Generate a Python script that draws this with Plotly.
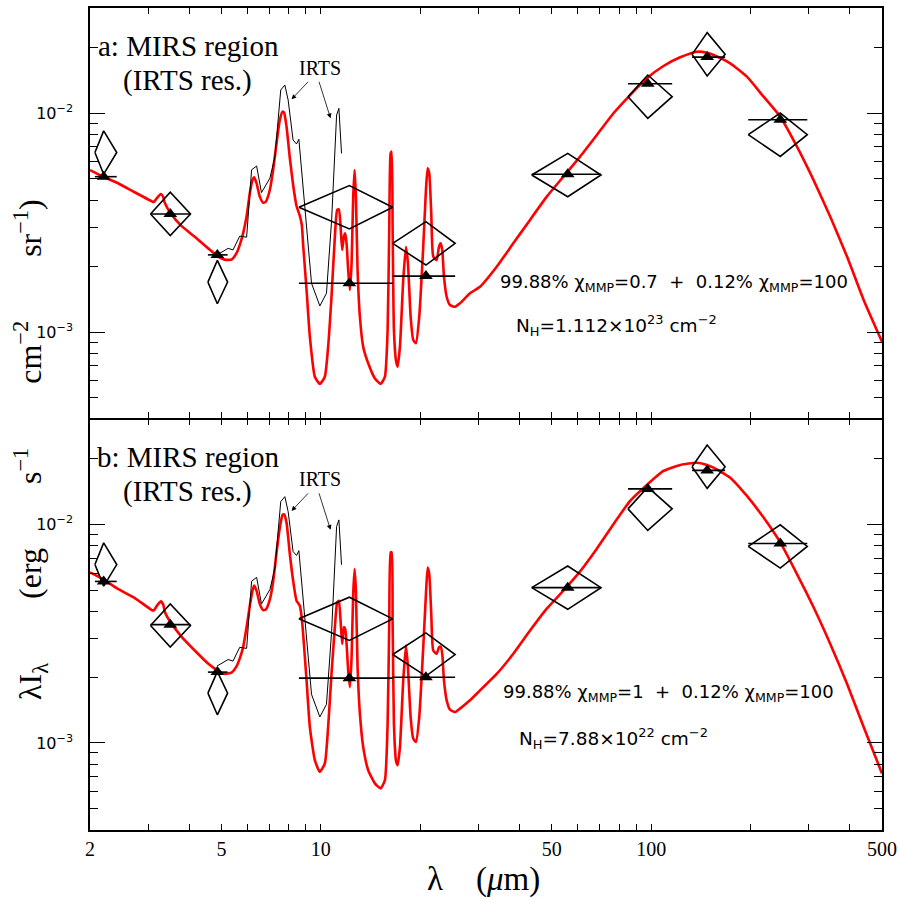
import numpy as np
import plotly.graph_objects as go

# ---------------- data ----------------
lam_model = [2.0, 2.205, 2.431, 2.713, 3.069, 3.118, 3.207, 3.275, 3.333, 3.368,
             3.512, 3.784, 4.152, 4.555, 4.885, 5.118, 5.363, 5.553, 5.683, 5.815,
             5.956, 6.094, 6.210, 6.280, 6.386, 6.534, 6.687, 6.813, 7.006, 7.169,
             7.341, 7.512, 7.655, 7.741, 7.872, 8.055, 8.243, 8.440, 8.637, 8.758,
             8.838, 9.052, 9.261, 9.590, 9.930, 10.28, 10.52, 10.77, 11.025, 11.205,
             11.339, 11.474, 11.603, 11.741, 11.848, 11.964, 12.098, 12.243, 12.389, 12.528,
             12.651, 12.766, 12.918, 13.127, 13.433, 13.910, 14.576, 15.167, 15.630, 15.927,
             16.106, 16.264, 16.378, 16.493, 16.643, 16.877, 17.078, 17.355, 17.759, 18.097,
             18.351, 18.700, 19.043, 19.405, 19.857, 20.417, 20.805, 21.053, 21.290, 21.589,
             21.892, 22.418, 22.781, 23.053, 23.312, 23.590, 24.038, 24.600, 25.473, 26.377,
             28.283, 30.327, 34.074, 38.253, 42.985, 48.303, 54.245, 60.937, 68.476, 76.901,
             86.375, 97.06, 108.96, 122.42, 137.55, 147.52, 154.47, 173.56, 194.98, 219.0,
             246.0, 276.4, 310.3, 348.6, 391.8, 440.0, 500.0]

model_a = [5.49e-3, 5.10e-3, 4.78e-3, 4.37e-3, 3.96e-3, 3.92e-3, 4.13e-3, 4.27e-3, 4.13e-3, 3.89e-3,
           3.48e-3, 3.05e-3, 2.72e-3, 2.41e-3, 2.21e-3, 2.14e-3, 2.14e-3, 2.29e-3, 2.50e-3, 2.82e-3,
           3.36e-3, 4.30e-3, 4.94e-3, 5.08e-3, 4.78e-3, 4.15e-3, 3.89e-3, 3.94e-3, 4.45e-3, 5.49e-3,
           7.27e-3, 9.29e-3, 1.014e-2, 1.003e-2, 8.66e-3, 6.23e-3, 4.69e-3, 3.76e-3, 3.39e-3, 3.08e-3,
           2.50e-3, 1.555e-3, 9.52e-4, 6.25e-4, 5.79e-4, 6.25e-4, 8.57e-4, 1.449e-3, 2.72e-3, 3.61e-3,
           3.63e-3, 3.03e-3, 2.37e-3, 2.72e-3, 2.82e-3, 2.54e-3, 1.92e-3, 1.555e-3, 2.06e-3, 4.15e-3,
           5.49e-3, 4.15e-3, 1.92e-3, 1.174e-3, 8.57e-4, 7.20e-4, 6.14e-4, 5.79e-4, 6.25e-4, 1.021e-3,
           2.92e-3, 6.55e-3, 6.66e-3, 2.92e-3, 1.021e-3, 7.45e-4, 6.94e-4, 8.57e-4, 1.727e-3, 2.45e-3,
           2.06e-3, 1.174e-3, 9.19e-4, 8.88e-4, 1.174e-3, 2.45e-3, 4.45e-3, 5.59e-3, 5.30e-3, 3.48e-3,
           2.21e-3, 2.13e-3, 2.45e-3, 2.54e-3, 2.37e-3, 1.789e-3, 1.449e-3, 1.328e-3, 1.304e-3, 1.352e-3,
           1.502e-3, 1.610e-3, 1.987e-3, 2.54e-3, 3.25e-3, 4.15e-3, 5.12e-3, 6.32e-3, 7.93e-3, 9.97e-3,
           1.208e-2, 1.440e-2, 1.639e-2, 1.796e-2, 1.905e-2, 1.885e-2, 1.840e-2, 1.686e-2, 1.465e-2, 1.187e-2,
           9.62e-3, 7.02e-3, 4.94e-3, 3.36e-3, 2.21e-3, 1.400e-3, 9.03e-4]

model_b = [6.04e-3, 5.59e-3, 5.07e-3, 4.64e-3, 4.07e-3, 4.04e-3, 4.30e-3, 4.45e-3, 4.30e-3, 3.99e-3,
           3.56e-3, 3.07e-3, 2.65e-3, 2.31e-3, 2.14e-3, 2.07e-3, 2.10e-3, 2.24e-3, 2.44e-3, 2.74e-3,
           3.38e-3, 4.25e-3, 4.98e-3, 5.25e-3, 4.98e-3, 4.33e-3, 4.06e-3, 4.08e-3, 4.53e-3, 5.47e-3,
           7.43e-3, 9.66e-3, 1.107e-2, 1.113e-2, 1.018e-2, 7.33e-3, 5.53e-3, 4.48e-3, 4.25e-3, 3.71e-3,
           3.16e-3, 1.933e-3, 1.183e-3, 8.34e-4, 7.37e-4, 8.05e-4, 1.183e-3, 2.07e-3, 3.39e-3, 4.40e-3,
           4.48e-3, 3.63e-3, 2.84e-3, 3.39e-3, 3.33e-3, 2.84e-3, 2.15e-3, 1.801e-3, 2.47e-3, 4.81e-3,
           6.26e-3, 4.98e-3, 2.22e-3, 1.362e-3, 9.59e-4, 7.50e-4, 6.53e-4, 6.19e-4, 6.76e-4, 1.227e-3,
           3.51e-3, 7.45e-3, 7.45e-3, 3.51e-3, 1.227e-3, 8.34e-4, 7.91e-4, 9.59e-4, 1.933e-3, 2.79e-3,
           2.22e-3, 1.314e-3, 1.047e-3, 1.011e-3, 1.314e-3, 2.74e-3, 4.81e-3, 6.36e-3, 5.93e-3, 3.90e-3,
           2.65e-3, 2.56e-3, 2.74e-3, 2.76e-3, 2.56e-3, 1.933e-3, 1.567e-3, 1.421e-3, 1.385e-3, 1.436e-3,
           1.567e-3, 1.740e-3, 2.07e-3, 2.56e-3, 3.27e-3, 4.12e-3, 4.98e-3, 6.10e-3, 7.75e-3, 1.004e-2,
           1.283e-2, 1.518e-2, 1.759e-2, 1.874e-2, 1.919e-2, 1.874e-2, 1.821e-2, 1.639e-2, 1.352e-2, 1.076e-2,
           8.28e-3, 5.93e-3, 4.18e-3, 2.84e-3, 1.867e-3, 1.183e-3, 7.25e-4]

lam_irts = [4.85, 5.24, 5.42, 5.68, 5.96, 6.17, 6.39, 6.61, 7.01, 7.26, 7.56, 7.78,
            7.96, 8.24, 8.44, 8.58, 9.37, 9.93, 10.4, 10.78, 11.16, 11.34, 11.55]
irts = [2.25e-3, 2.41e-3, 2.37e-3, 2.74e-3, 2.71e-3, 5.50e-3, 5.73e-3, 4.33e-3, 5.04e-3, 6.32e-3,
        1.274e-2, 1.342e-2, 1.147e-2, 7.53e-3, 7.22e-3, 7.59e-3, 1.669e-3, 1.315e-3, 1.503e-3,
        3.246e-3, 9.79e-3, 1.05e-2, 6.54e-3]

lam_band = [2.2, 3.5, 4.86, 12.2, 20.8, 55.9, 97.7, 147.8, 246.0]
band_lo = [2.07, 3.05, 4.55, 8.58, 16.5, 43.5, 85.1, 133.0, 196.8]
band_hi = [2.41, 4.03, 5.22, 16.5, 25.5, 70.5, 115.8, 167.5, 297.0]

obs_a = [5.12e-3, 3.46e-3, 2.25e-3, 1.67e-3, 1.80e-3, 5.25e-3, 1.36e-2, 1.80e-2, 9.32e-3]
pred_a = [6.60e-3, 3.46e-3, 1.69e-3, 3.71e-3, 2.54e-3, 5.21e-3, 1.187e-2, 1.853e-2, 7.96e-3]
obs_b = [5.49e-3, 3.48e-3, 2.11e-3, 1.98e-3, 2.00e-3, 5.14e-3, 1.456e-2, 1.77e-2, 8.19e-3]
pred_b = [6.56e-3, 3.45e-3, 1.69e-3, 3.70e-3, 2.54e-3, 5.14e-3, 1.18e-2, 1.84e-2, 7.94e-3]

x_tick_vals = [2, 5, 10, 50, 100, 500]
x_tick_text = ["2", "5", "10", "50", "100", "500"]
y_tick_vals = [1e-3, 1e-2]
y_tick_text = ["10<sup>\u22123</sup>", "10<sup>\u22122</sup>"]

# ---------------- figure ----------------
DH = 10 ** 0.099
SERIF = "Liberation Serif"
SANS = "DejaVu Sans"
LW = 1.5


def diamond_path(lo, c, hi, v):
    xs, ys = [], []
    for l, cc, h, vv in zip(lo, c, hi, v):
        xs += [l, cc, h, cc, l, None]
        ys += [vv, vv * DH, vv, vv / DH, vv, None]
    return xs, ys


fig = go.Figure()
panels = [(model_a, obs_a, pred_a, "x2", "y2"), (model_b, obs_b, pred_b, "x", "y")]
for model, obs, pred, xa, ya in panels:
    fig.add_trace(go.Scatter(x=lam_model, y=model, mode="lines",
                             line=dict(color="#ff0000", width=2.6, shape="spline", smoothing=0.5),
                             xaxis=xa, yaxis=ya, showlegend=False, hoverinfo="skip"))
    fig.add_trace(go.Scatter(x=lam_irts, y=irts, mode="lines",
                             line=dict(color="black", width=1),
                             xaxis=xa, yaxis=ya, showlegend=False, hoverinfo="skip"))
    dx, dy = diamond_path(band_lo, lam_band, band_hi, pred)
    fig.add_trace(go.Scatter(x=dx, y=dy, mode="lines", line=dict(color="black", width=1.6),
                             xaxis=xa, yaxis=ya, showlegend=False, hoverinfo="skip"))
    fig.add_trace(go.Scatter(
        x=lam_band, y=obs, mode="markers",
        marker=dict(symbol="triangle-up", size=12, color="black"),
        error_x=dict(type="data", symmetric=False,
                     array=[h - c for h, c in zip(band_hi, lam_band)],
                     arrayminus=[c - l for l, c in zip(band_lo, lam_band)],
                     width=0, thickness=1.6, color="black"),
        xaxis=xa, yaxis=ya, showlegend=False, hoverinfo="skip"))

minor_x = [3, 4, 6, 7, 8, 9, 20, 30, 40, 60, 70, 80, 90, 200, 300, 400]
minor_y = [3e-4, 4e-4, 5e-4, 6e-4, 7e-4, 8e-4, 9e-4,
           2e-3, 3e-3, 4e-3, 5e-3, 6e-3, 7e-3, 8e-3, 9e-3, 2e-2, 3e-2]

xr = [np.log10(2), np.log10(500)]
xbase = dict(type="log", range=xr, showline=True, linecolor="black", linewidth=LW,
             mirror="ticks", ticks="inside", tickvals=x_tick_vals, ticktext=x_tick_text,
             ticklen=6, tickwidth=1.2, tickcolor="black", showgrid=False, zeroline=False,
             automargin=False, ticklabeloverflow="allow",
             tickfont=dict(family=SERIF, size=20, color="black"),
             minor=dict(tickvals=minor_x, ticks="inside", ticklen=6, tickwidth=1.2,
                        tickcolor="black", showgrid=False))
xlong = dict(type="log", range=xr, showline=False, mirror="ticks", ticks="inside",
             tickvals=[10, 100], ticklen=13, tickwidth=1.2, tickcolor="black",
             showticklabels=False, showgrid=False, zeroline=False, automargin=False)
ybase = dict(type="log", showline=True, linecolor="black", linewidth=LW, mirror="ticks",
             ticks="inside", tickvals=y_tick_vals, ticktext=y_tick_text, ticklen=15,
             tickwidth=1.2, tickcolor="black", showgrid=False, zeroline=False,
             ticklabelstandoff=12, automargin=False,
             tickfont=dict(family=SANS, size=16, color="black"),
             minor=dict(tickvals=minor_y, ticks="inside", ticklen=8, tickwidth=1.2,
                        tickcolor="black", showgrid=False))

split = 412 / 822
gap = LW / 822
fig.update_layout(
    width=899, height=899, plot_bgcolor="white", paper_bgcolor="white",
    margin=dict(l=90, r=17, t=8, b=69, autoexpand=False),
    showlegend=False,
    xaxis=dict(xbase, anchor="y", domain=[0, 1]),
    xaxis2=dict(xbase, anchor="y2", domain=[0, 1], showticklabels=False),
    xaxis3=dict(xlong, anchor="y", overlaying="x"),
    xaxis4=dict(xlong, anchor="y2", overlaying="x2"),
    yaxis=dict(ybase, anchor="x", domain=[0, split - gap], range=[-3.3986, -1.5174 - 0.0016]),
    yaxis2=dict(ybase, anchor="x2", domain=[split, 1], range=[-3.3927, -1.5205]),
)


def px(xp):
    return (xp - 90) / 792


def py(yp):
    return (830 - yp) / 822


def txt(text, x, y, size, family, **kw):
    d = dict(text=text, xref="paper", yref="paper", x=px(x), y=py(y), showarrow=False,
             xanchor="center", yanchor="middle",
             font=dict(family=family, size=size, color="black"))
    d.update(kw)
    return d


sp = "\u00a0" * 8
ann = []
ann.append(txt("\u03bbI<sub>\u03bb</sub>" + sp + "(erg" + sp + "s<sup>\u22121</sup>" + sp +
               "cm<sup>\u22122</sup>" + sp + "sr<sup>\u22121</sup>)",
               30, 450, 32, SERIF, textangle=-90))
ann.append(txt("\u03bb\u00a0\u00a0\u00a0\u00a0(<i>\u03bc</i>m)", 483, 879, 33, SERIF))
for tag, off in [("a", 0), ("b", 410.7)]:
    ann.append(txt(tag + ": MIRS region", 188, 46 + off, 29, SERIF))
    ann.append(txt("(IRTS res.)", 187, 81 + off, 29, SERIF))
    ann.append(txt("IRTS", 320, 68 + off, 20, SERIF))
for xa, ya in [("x2", "y2"), ("x", "y")]:
    ann.append(dict(text="", xref=xa, yref=ya, x=np.log10(8.15), y=-1.9374,
                    ax=18, ay=-19, showarrow=True, arrowhead=2, arrowsize=1.2,
                    arrowwidth=0.8, arrowcolor="black"))
    ann.append(dict(text="", xref=xa, yref=ya, x=np.log10(10.70), y=-2.0242,
                    ax=-12, ay=-38, showarrow=True, arrowhead=2, arrowsize=1.2,
                    arrowwidth=0.8, arrowcolor="black"))

ann.append(txt("99.88% \u03c7<sub>MMP</sub>=0.7\u00a0\u00a0+\u00a0\u00a00.12% \u03c7<sub>MMP</sub>=100",
               673.5, 283, 18, SANS))
ann.append(txt("N<sub>H</sub>=1.112\u00d710<sup>23</sup> cm<sup>\u22122</sup>",
               616.7, 325, 18.5, SANS))
ann.append(txt("99.88% \u03c7<sub>MMP</sub>=1\u00a0\u00a0+\u00a0\u00a00.12% \u03c7<sub>MMP</sub>=100",
               668.7, 693, 18, SANS))
ann.append(txt("N<sub>H</sub>=7.88\u00d710<sup>22</sup> cm<sup>\u22122</sup>",
               613.7, 738, 18.5, SANS))

fig.update_layout(annotations=ann)
fig.write_html("out.html", config={"displayModeBar": False},
               post_script="document.body.style.margin='0';document.body.style.overflow='hidden';")
